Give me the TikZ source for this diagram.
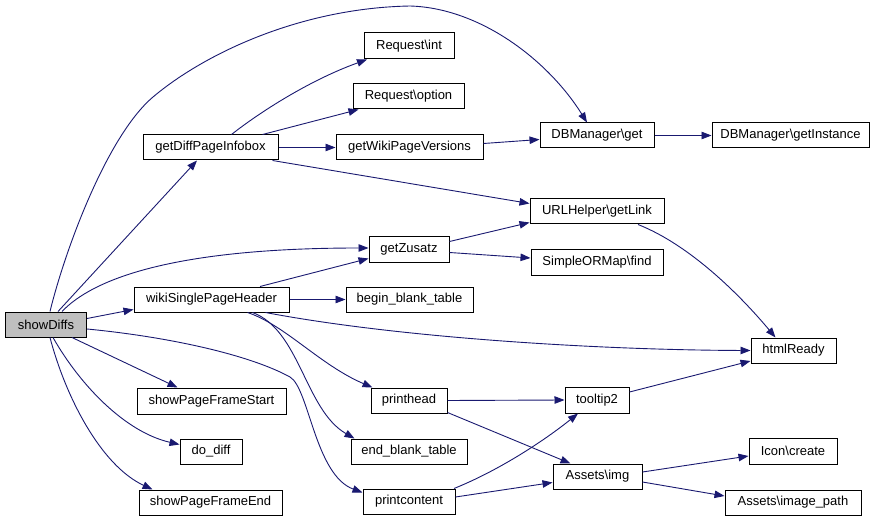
\documentclass[tikz,border=0pt]{standalone}
\usepackage{fontspec}
\setmainfont{Liberation Sans}
\usetikzlibrary{arrows.meta}
\definecolor{edgecol}{HTML}{191970}
\definecolor{rootfill}{HTML}{BFBFBF}
\begin{document}
\begin{tikzpicture}[x=1pt,y=-1pt,
  fn/.style={draw=black,line width=1pt,minimum height=25pt,inner sep=0pt,
    font=\fontsize{13}{15}\selectfont,fill=white},
  call/.style={draw=edgecol,line width=0.9pt,-{Triangle[length=10pt,width=7.5pt]}}]
\useasboundingbox (0,0) rectangle (880,521);
% nodes
\node[fn,fill=rootfill,minimum width=81pt] (sd) at (46,324.5) {showDiffs};
\node[fn,minimum width=135pt] (gdpi) at (210.5,147.5) {getDiffPageInfobox};
\node[fn,minimum width=90pt,minimum height=26pt] (rint) at (409,46) {Request\textbackslash int};
\node[fn,minimum width=111pt] (ropt) at (408.5,96.5) {Request\textbackslash option};
\node[fn,minimum width=147pt] (gwpv) at (409.5,147.5) {getWikiPageVersions};
\node[fn,minimum width=114pt] (dbget) at (597,135.5) {DBManager\textbackslash get};
\node[fn,minimum width=157pt] (dbgi) at (790.5,135.5) {DBManager\textbackslash getInstance};
\node[fn,minimum width=134pt] (url) at (597,211.5) {URLHelper\textbackslash getLink};
\node[fn,minimum width=132pt] (sorm) at (597,262.5) {SimpleORMap\textbackslash find};
\node[fn,minimum width=80pt] (gz) at (409,249.5) {getZusatz};
\node[fn,minimum width=155pt] (wsph) at (211.5,299.5) {wikiSinglePageHeader};
\node[fn,minimum width=127pt] (bbt) at (409.5,299.5) {begin\_blank\_table};
\node[fn,minimum width=85pt] (html) at (793.5,350.5) {htmlReady};
\node[fn,minimum width=149pt,minimum height=26pt] (sfs) at (211.5,401) {showPageFrameStart};
\node[fn,minimum width=62pt] (dd) at (211,451.5) {do\_diff};
\node[fn,minimum width=143pt] (sfe) at (210.5,502.5) {showPageFrameEnd};
\node[fn,minimum width=76pt] (ph) at (409,400.5) {printhead};
\node[fn,minimum width=116pt] (ebt) at (409,451.5) {end\_blank\_table};
\node[fn,minimum width=92pt] (pc) at (409,501.5) {printcontent};
\node[fn,minimum width=64pt,minimum height=26pt] (tt) at (597,400) {tooltip2};
\node[fn,minimum width=88pt,minimum height=26pt] (ic) at (793,451) {Icon\textbackslash create};
\node[fn,minimum width=89pt] (aimg) at (597.5,476.5) {Assets\textbackslash img};
\node[fn,minimum width=136pt] (aip) at (793,502.5) {Assets\textbackslash image\_path};
% edges from showDiffs
\draw[call] ([xshift=4]sd.north) .. controls (65,250) and (107,136) .. (153,97)
  .. controls (204,54) and (300,8) .. (410,6)
  .. controls (480,8) and (548,60) .. ([xshift=-10]dbget.north);
\draw[call] ([xshift=12]sd.north) -- ([xshift=-13.5]gdpi.south);
\draw[call] ([xshift=16]sd.north) .. controls (92,280) and (170,248) .. ([yshift=1.5]gz.west);
\draw[call] ([yshift=6]sd.east) -- ([yshift=-10]wsph.west);
\draw[call] ([yshift=-4.5]sd.east) .. controls (170,337) and (250,355) .. (290,377)
  .. controls (309,388) and (315,475) .. ([yshift=9]pc.west);
\draw[call] ([xshift=26]sd.south) -- ([xshift=-34]sfs.north);
\draw[call] ([xshift=7]sd.south) .. controls (80,385) and (125,432) .. ([yshift=7]dd.west);
\draw[call] ([xshift=4]sd.south) .. controls (65,395) and (100,465) .. ([xshift=-58]sfe.north);
% getDiffPageInfobox
\draw[call] ([xshift=21]gdpi.north) .. controls (260,112) and (310,80) .. ([xshift=-42]rint.south);
\draw[call] ([xshift=52]gdpi.north) -- ([xshift=-50]ropt.south);
\draw[call] (gdpi.east) -- (gwpv.west);
\draw[call] ([xshift=62]gdpi.south) -- ([yshift=8]url.west);
\draw[call] ([yshift=4]gwpv.east) -- ([yshift=-4]dbget.west);
\draw[call] (dbget.east) -- (dbgi.west);
% getZusatz
\draw[call] ([yshift=8]gz.east) -- ([yshift=-11]url.west);
\draw[call] ([yshift=-3]gz.east) -- ([yshift=4.5]sorm.west);
\draw[call] ([xshift=41]url.south) .. controls (690,245) and (740,295) .. ([xshift=-18]html.north);
% wikiSinglePageHeader
\draw[call] ([xshift=48.5]wsph.north) -- ([yshift=-9]gz.west);
\draw[call] (wsph.east) -- (bbt.west);
\draw[call] ([xshift=54]wsph.south) .. controls (400,338) and (600,350) .. (html.west);
\draw[call] ([xshift=36]wsph.south) .. controls (285,325) and (320,365) .. ([xshift=2]ph.north west);
\draw[call] ([xshift=41]wsph.south) .. controls (300,330) and (305,410) .. ([xshift=4]ebt.north west);
% printhead / printcontent
\draw[call] (ph.east) -- (tt.west);
\draw[call] ([yshift=-12]ph.east) -- ([xshift=-27]aimg.north);
\draw[call] ([xshift=45]pc.north) .. controls (500,470) and (545,440) .. ([xshift=-19]tt.south);
\draw[call] ([yshift=4.5]pc.east) -- ([yshift=-6]aimg.west);
\draw[call] ([yshift=8]tt.east) -- ([yshift=-10.5]html.west);
\draw[call] ([yshift=4.5]aimg.east) -- ([yshift=-5]ic.west);
\draw[call] ([yshift=-5.5]aimg.east) -- ([yshift=6.5]aip.west);
\end{tikzpicture}
\end{document}
